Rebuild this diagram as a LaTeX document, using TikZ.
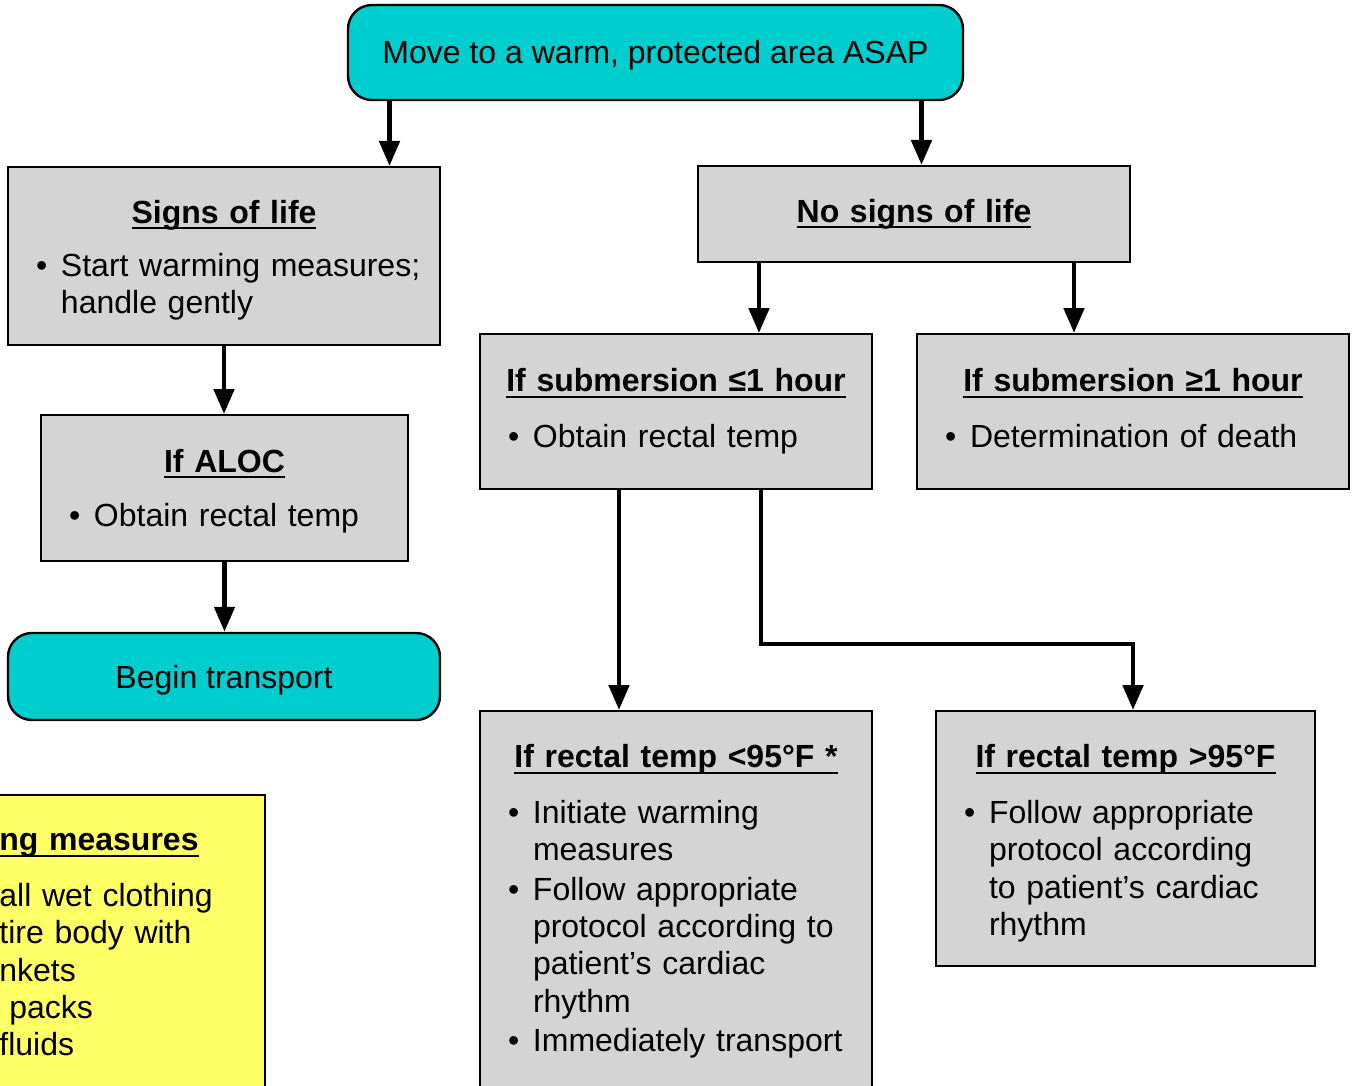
\documentclass[tikz,border=0pt]{standalone}
\usepackage{fontspec}
\setmainfont{Liberation Sans}
\usetikzlibrary{arrows.meta}
\definecolor{flowcyan}{RGB}{0,206,206}
\definecolor{flowgray}{RGB}{212,212,212}
\definecolor{flowyellow}{RGB}{255,255,102}
\newcommand{\ttl}[1]{\setbox0\hbox{\bfseries #1}\rlap{\rule[-3pt]{\wd0}{1pt}}\box0}
\newcommand{\boxhead}[3][9.35pt]{\centerline{\rule{0pt}{#2}\ttl{#3}}\par\vspace{#1}}
\newcommand{\bul}[1]{\par\noindent\makebox[12.5pt][l]{\textbullet}\begin{tabular}[t]{@{}l@{}}#1\end{tabular}\par}

\begin{document}
\begin{tikzpicture}[x=0.5pt,y=-0.5pt,
  every node/.style={font=\fontsize{16}{18.65}\selectfont},
  flowbox/.style={draw, line width=1pt, fill=flowgray, inner xsep=14pt, inner ysep=0pt},
  roundbox/.style={draw, line width=1.2pt, fill=flowcyan, rounded corners=12pt, text height=13.5pt, text depth=2pt},
  arr/.style={line width=2.4pt, -{Triangle[width=10pt,length=12.5pt]}}]
\useasboundingbox (0,0) rectangle (1354,1086);
\clip (0,0) rectangle (1354,1086);
\node[roundbox, minimum width=307.5pt, minimum height=47.5pt] (move) at (655.5,52.5) {Move to a warm, protected area ASAP};
\node[flowbox, text width=188pt, minimum height=89pt] (signs) at (224,256) {\boxhead[7.85pt]{18.2pt}{Signs of life}\bul{Start warming measures;\\handle gently}};
\node[flowbox, text width=188pt, minimum height=48pt] (nosigns) at (914,214) {\centerline{\ttl{No signs of life}}};
\node[flowbox, text width=155.5pt, minimum height=73pt] (aloc) at (224.5,488) {\boxhead[8.35pt]{16.7pt}{If ALOC}\bul{Obtain rectal temp}};
\node[roundbox, minimum width=216pt, minimum height=43.5pt] (begin) at (224,676.5) {Begin transport};
\node[flowbox, text width=168pt, minimum height=77.5pt] (sub1) at (676,411.5) {\boxhead{13.7pt}{If submersion ≤1 hour}\bul{Obtain rectal temp}};
\node[flowbox, text width=188pt, minimum height=77.5pt] (sub2) at (1133,411.5) {\boxhead{13.7pt}{If submersion ≥1 hour}\bul{Determination of death}};
\node[flowbox, text width=168pt, minimum height=194.5pt] (low) at (676,905.5) {\boxhead{0pt}{If rectal temp <95°F *}\bul{Initiate warming\\measures}\bul{Follow appropriate\\protocol according to\\patient’s cardiac\\rhythm}\bul{Immediately transport\rule[-7.6pt]{0pt}{7.6pt}}};
\node[flowbox, text width=161.5pt, minimum height=127.5pt] (high) at (1125.5,838.5) {\boxhead{18.7pt}{If rectal temp >95°F}\bul{Follow appropriate\\protocol according\\to patient’s cardiac\\rhythm}};
\node[flowbox, fill=flowyellow, minimum width=182.5pt, minimum height=152.5pt] (warm) at (82.5,947.5) {};
\node[anchor=north west, text width=150pt, align=left, inner sep=0pt] (warmtxt) at (-1,824) {\strut\ttl{ng measures}\par\vspace{9.35pt}all wet clothing\\tire body with\\nkets\\\hspace*{5pt}packs\\fluids};
\draw[arr] ([xshift=-133pt]move.south) -- ([xshift=82.75pt]signs.north);
\draw[arr] ([xshift=133pt]move.south) -- ([xshift=3.75pt]nosigns.north);
\draw[arr] (signs.south) -- (signs.south |- aloc.north);
\draw[arr] (aloc.south) -- (aloc.south |- begin.north);
\draw[arr] ([xshift=-77.5pt]nosigns.south) -- ([xshift=41.5pt]sub1.north);
\draw[arr] ([xshift=80pt]nosigns.south) -- ([xshift=-29.5pt]sub2.north);
\draw[arr] ([xshift=-28.5pt]sub1.south) -- ([xshift=-28.5pt]low.north);
\draw[arr] ([xshift=42.5pt]sub1.south) -- ++(0,154) -| ([xshift=3.75pt]high.north);
\end{tikzpicture}
\end{document}
